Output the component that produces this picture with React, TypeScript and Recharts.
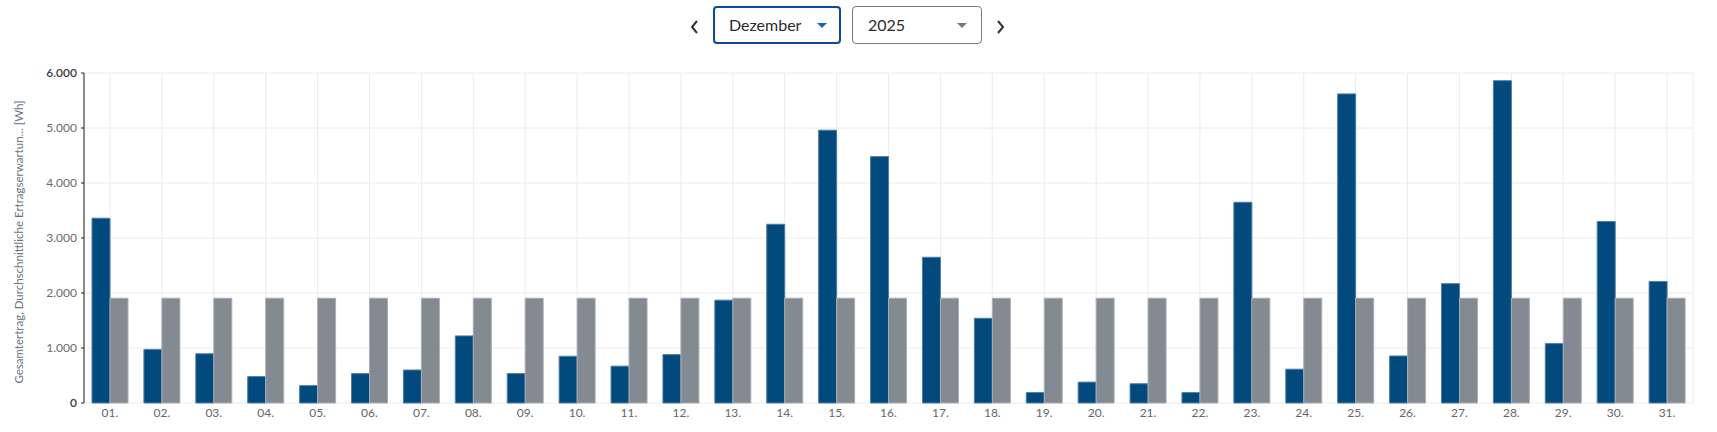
import React from "react";
import {
  BarChart,
  Bar,
  XAxis,
  YAxis,
  CartesianGrid,
} from "recharts";

// Tageswerte Dezember 2025 in Wh
const days = [
  "01.", "02.", "03.", "04.", "05.", "06.", "07.", "08.", "09.", "10.",
  "11.", "12.", "13.", "14.", "15.", "16.", "17.", "18.", "19.", "20.",
  "21.", "22.", "23.", "24.", "25.", "26.", "27.", "28.", "29.", "30.", "31.",
];
const gesamtertrag = [
  3360, 975, 895, 480, 316, 535, 600, 1220, 535, 850,
  670, 880, 1870, 3250, 4960, 4480, 2650, 1540, 190, 380,
  350, 190, 3650, 615, 5620, 855, 2170, 5860, 1080, 3300, 2210,
];
const erwartung = [
  1905, 1905, 1905, 1905, 1905, 1905, 1905, 1905, 1905, 1905,
  1905, 1905, 1905, 1905, 1905, 1905, 1905, 1905, 1905, 1905,
  1905, 1905, 1905, 1905, 1905, 1905, 1905, 1905, 1905, 1905, 1905,
];
const yTicks = [0, 1000, 2000, 3000, 4000, 5000, 6000];

const FONT = "Lato, 'Open Sans', sans-serif";

const chartData = days.map((day, i) => ({
  day,
  gesamt: gesamtertrag[i],
  erwartung: erwartung[i],
}));

const formatDe = (v: number) => String(v).replace(/\B(?=(\d{3})+(?!\d))/g, ".");

function YTick(props: any) {
  const { x, y, payload } = props;
  const edge = payload.value === 0 || payload.value === 6000;
  return (
    <text
      x={x}
      y={y}
      dy={4}
      textAnchor="end"
      fontSize={12}
      fontFamily={FONT}
      fill={edge ? "#3d3d3d" : "#6b6b6b"}
      fontWeight={edge ? 600 : 400}
    >
      {formatDe(payload.value)}
    </text>
  );
}

function YLabel() {
  return (
    <text
      x={18}
      y={242}
      transform="rotate(-90, 18, 242)"
      textAnchor="middle"
      dominantBaseline="central"
      fontSize={11.5}
      fontFamily={FONT}
      fill="#6a7486"
    >
      Gesamtertrag, Durchschnittliche Ertragserwartun... [Wh]
    </text>
  );
}

function Caret({ color }: { color: string }) {
  return (
    <svg width={10} height={6} style={{ position: "absolute", top: 0 }}>
      <polygon points="0,0 10,0 5,5" fill={color} />
    </svg>
  );
}

function Chevron({ dir }: { dir: "left" | "right" }) {
  const pts = dir === "left" ? "7,1 2,7 7,13" : "2,1 7,7 2,13";
  return (
    <svg width={10} height={14}>
      <polyline points={pts} fill="none" stroke="#333" strokeWidth={2} />
    </svg>
  );
}

export default function App() {
  return (
    <div
      style={{
        position: "absolute",
        left: 0,
        top: 0,
        width: 1717,
        height: 432,
        background: "#fff",
        fontFamily: FONT,
      }}
    >
      {/* Monat / Jahr Auswahl */}
      <div style={{ position: "absolute", left: 690, top: 18 }}>
        <Chevron dir="left" />
      </div>
      <div
        style={{
          position: "absolute",
          left: 713,
          top: 6,
          width: 124,
          height: 34,
          border: "2px solid #0b4a9b",
          borderRadius: 4,
          boxSizing: "content-box",
        }}
      >
        <span style={{ position: "absolute", left: 14, top: 7, fontSize: 16, color: "#2b2b2b" }}>
          Dezember
        </span>
        <div style={{ position: "absolute", left: 102, top: 15 }}>
          <Caret color="#1a63c4" />
        </div>
      </div>
      <div
        style={{
          position: "absolute",
          left: 852,
          top: 6,
          width: 128,
          height: 36,
          border: "1px solid #7a7a7a",
          borderRadius: 4,
        }}
      >
        <span style={{ position: "absolute", left: 15, top: 8, fontSize: 16, color: "#2b2b2b" }}>
          2025
        </span>
        <div style={{ position: "absolute", left: 104, top: 16 }}>
          <Caret color="#777" />
        </div>
      </div>
      <div style={{ position: "absolute", left: 996, top: 18 }}>
        <Chevron dir="right" />
      </div>

      {/* Chart */}
      <div style={{ position: "absolute", left: 0, top: 0 }}>
        <BarChart
          width={1717}
          height={432}
          data={chartData}
          margin={{ top: 73, right: 24, bottom: 0, left: 0 }}
          barCategoryGap={8}
          barGap={0}
        >
          <CartesianGrid stroke="#ececec" />
          <XAxis
            dataKey="day"
            height={29}
            axisLine={false}
            tickLine={false}
            tickSize={0}
            tickMargin={5}
            interval={0}
            tick={{ fontSize: 12, fill: "#666", fontFamily: FONT }}
          />
          <YAxis
            width={84}
            domain={[0, 6000]}
            ticks={yTicks}
            interval={0}
            axisLine={{ stroke: "#222" }}
            tickLine={{ stroke: "#222" }}
            tickSize={3}
            tickMargin={4}
            tick={<YTick />}
            label={<YLabel />}
          />
          <Bar
            dataKey="gesamt"
            fill="#02497e"
            stroke="#4f7ea6"
            strokeWidth={1}
            isAnimationActive={false}
          />
          <Bar
            dataKey="erwartung"
            fill="#848a91"
            stroke="#a9aeb3"
            strokeWidth={1}
            isAnimationActive={false}
          />
        </BarChart>
      </div>
    </div>
  );
}
